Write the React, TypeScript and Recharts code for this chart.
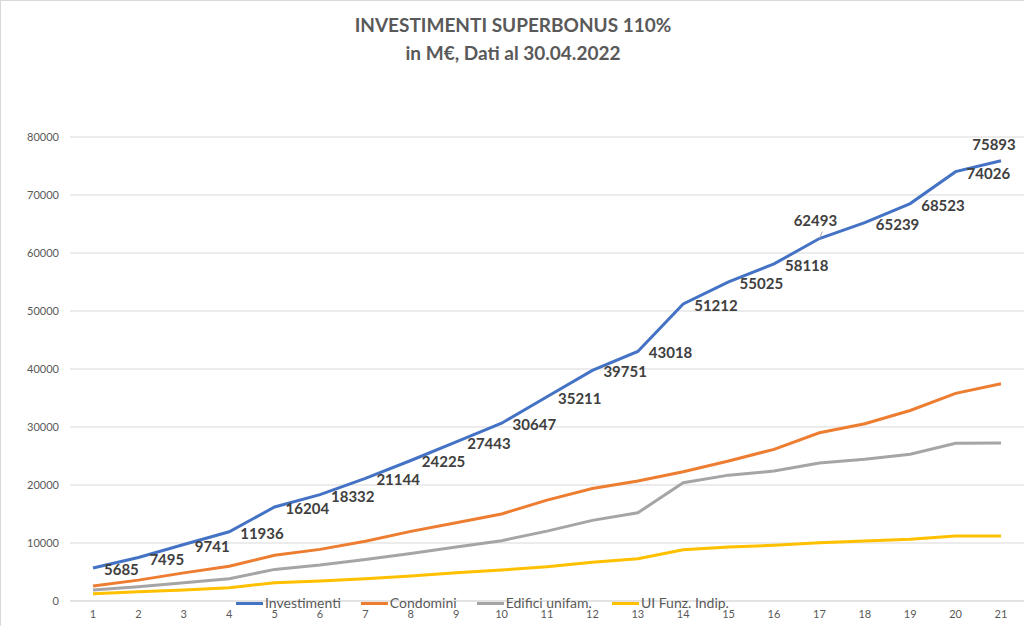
import { CartesianGrid, LabelList, Line, LineChart, XAxis, YAxis } from "recharts";

const periods = [1, 2, 3, 4, 5, 6, 7, 8, 9, 10, 11, 12, 13, 14, 15, 16, 17, 18, 19, 20, 21];
const investimenti = [
  5685, 7495, 9741, 11936, 16204, 18332, 21144, 24225, 27443, 30647, 35211, 39751, 43018, 51212,
  55025, 58118, 62493, 65239, 68523, 74026, 75893,
];
const condomini = [
  2600, 3600, 4850, 6000, 7900, 8900, 10300, 12000, 13500, 15000, 17400, 19400, 20700, 22300,
  24150, 26150, 29000, 30550, 32850, 35800, 37450,
];
const edificiUnifam = [
  1900, 2450, 3150, 3850, 5450, 6200, 7150, 8200, 9300, 10400, 12050, 13900, 15200, 20400, 21700,
  22400, 23800, 24450, 25300, 27200, 27250,
];
const uiFunzIndip = [
  1250, 1600, 1900, 2300, 3150, 3450, 3850, 4300, 4850, 5330, 5900, 6700, 7300, 8850, 9300, 9600,
  10050, 10350, 10650, 11200, 11200,
];
const yTicks = [0, 10000, 20000, 30000, 40000, 50000, 60000, 70000, 80000];

const data = periods.map((p, i) => ({
  p,
  investimenti: investimenti[i],
  condomini: condomini[i],
  edifici: edificiUnifam[i],
  ui: uiFunzIndip[i],
}));

const series = [
  { key: "investimenti", name: "Investimenti", color: "#4472C4" },
  { key: "condomini", name: "Condomini", color: "#ED7D31" },
  { key: "edifici", name: "Edifici unifam.", color: "#A5A5A5" },
  { key: "ui", name: "UI Funz. Indip.", color: "#FFC000" },
];

const FONT = "Lato, 'Open Sans', sans-serif";

function ValueLabel(props: any) {
  const { x, y, value, index } = props;
  const style = { fontFamily: FONT, fontSize: 15, fontWeight: 700, fill: "#404040" };
  if (index === 16) {
    return (
      <g>
        <line x1={x + 3} y1={y - 7} x2={x} y2={y} stroke="#A6A6A6" strokeWidth={1} />
        <text x={x - 4} y={y - 19} textAnchor="middle" dominantBaseline="central" style={style}>
          {value}
        </text>
      </g>
    );
  }
  if (index === 20) {
    return (
      <text x={x - 7} y={y - 17} textAnchor="middle" dominantBaseline="central" style={style}>
        {value}
      </text>
    );
  }
  return (
    <text x={x + 11} y={y + 1} textAnchor="start" dominantBaseline="central" style={style}>
      {value}
    </text>
  );
}

function LegendBox() {
  return (
    <div
      style={{
        position: "absolute",
        left: 235,
        top: 593,
        display: "flex",
        fontFamily: FONT,
        fontSize: 14,
        lineHeight: "18px",
        color: "#595959",
        whiteSpace: "nowrap",
      }}
    >
      {series.map((s) => (
        <div key={s.key} style={{ display: "flex", alignItems: "center", marginRight: 20 }}>
          <span style={{ display: "inline-block", width: 27, height: 3, background: s.color, marginRight: 2 }} />
          <span>{s.name}</span>
        </div>
      ))}
    </div>
  );
}

export default function App() {
  return (
    <div
      style={{
        position: "absolute",
        left: 0,
        top: 0,
        width: 1024,
        height: 626,
        background: "#fff",
        boxSizing: "border-box",
        borderLeft: "1px solid #d9d9d9",
        borderTop: "1px solid #d9d9d9",
      }}
    >
      <div
        style={{
          position: "absolute",
          top: 10,
          left: 0,
          width: 1024,
          textAlign: "center",
          fontFamily: FONT,
          fontWeight: 700,
          fontSize: 19,
          lineHeight: "28px",
          color: "#595959",
        }}
      >
        <div>INVESTIMENTI SUPERBONUS 110%</div>
        <div>in M€, Dati al 30.04.2022</div>
      </div>
      <div style={{ position: "absolute", left: 0, top: 0 }}>
        <LineChart width={1024} height={626} data={data} margin={{ top: 136, right: 1, bottom: 0, left: 0 }}>
          <CartesianGrid vertical={false} stroke="#d9d9d9" />
          <XAxis
            dataKey="p"
            height={26}
            padding={{ left: 23, right: 23 }}
            tickLine={false}
            tickSize={0}
            axisLine={{ stroke: "#d9d9d9" }}
            tick={{ fill: "#595959", fontSize: 11, fontFamily: FONT }}
            tickMargin={9}
          />
          <YAxis
            width={69}
            domain={[0, 80000]}
            ticks={yTicks}
            tickLine={false}
            tickSize={0}
            axisLine={false}
            tick={{ fill: "#595959", fontSize: 11, fontFamily: FONT }}
            tickMargin={11}
          />
          {series.map((s) => (
            <Line
              key={s.key}
              type="linear"
              dataKey={s.key}
              name={s.name}
              stroke={s.color}
              strokeWidth={3}
              dot={false}
              activeDot={false}
              isAnimationActive={false}
            >
              {s.key === "investimenti" ? <LabelList dataKey="investimenti" content={<ValueLabel />} /> : null}
            </Line>
          ))}
        </LineChart>
      </div>
      <LegendBox />
    </div>
  );
}
